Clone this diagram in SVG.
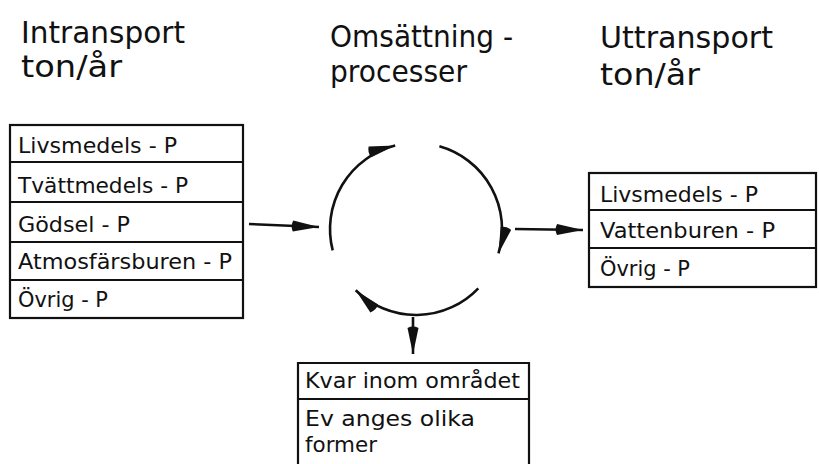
<svg xmlns="http://www.w3.org/2000/svg" width="819" height="464" viewBox="0 0 819 464">
  <style>
    text { font-family: "DejaVu Sans", "Liberation Sans", sans-serif; fill: #111; }
    .head { font-size: 31px; }
    .cell { font-size: 21px; }
    .box { fill: none; stroke: #111; stroke-width: 2.2; }
    .sep { stroke: #111; stroke-width: 2; }
    .flow { fill: none; stroke: #111; stroke-width: 2.6; marker-end: url(#spike); }
  </style>
  <defs>
    <!-- long narrow arrowhead, tip at the path end -->
    <marker id="spike" markerUnits="userSpaceOnUse" viewBox="0 0 28 12" markerWidth="28" markerHeight="12" refX="28" refY="6" orient="auto">
      <path d="M2,0.5 L28,6 L2,11.5 Q-0.8,6 2,0.5 z" fill="#111"/>
    </marker>
  </defs>
  <rect width="819" height="464" fill="#fff"/>

  <!-- column headings -->
  <g id="heading-in">
    <text class="head" x="21" y="43" textLength="164" lengthAdjust="spacingAndGlyphs">Intransport</text>
    <text class="head" x="21" y="77" textLength="101" lengthAdjust="spacingAndGlyphs">ton/år</text>
  </g>
  <g id="heading-process">
    <text class="head" x="330" y="47" textLength="183" lengthAdjust="spacingAndGlyphs">Omsättning -</text>
    <text class="head" x="330" y="82" textLength="137" lengthAdjust="spacingAndGlyphs">processer</text>
  </g>
  <g id="heading-out">
    <text class="head" x="600" y="48" textLength="173" lengthAdjust="spacingAndGlyphs">Uttransport</text>
    <text class="head" x="600" y="85" textLength="100" lengthAdjust="spacingAndGlyphs">ton/år</text>
  </g>

  <!-- inflow table -->
  <g id="inflow">
    <rect class="box" x="10" y="125" width="233" height="193"/>
    <line class="sep" x1="10" y1="162" x2="243" y2="162"/>
    <line class="sep" x1="10" y1="202" x2="243" y2="202"/>
    <line class="sep" x1="10" y1="242" x2="243" y2="242"/>
    <line class="sep" x1="10" y1="280" x2="243" y2="280"/>
    <text class="cell" x="18" y="153" textLength="159" lengthAdjust="spacingAndGlyphs">Livsmedels - P</text>
    <text class="cell" x="18" y="193" textLength="170" lengthAdjust="spacingAndGlyphs">Tvättmedels - P</text>
    <text class="cell" x="18" y="232" textLength="112" lengthAdjust="spacingAndGlyphs">Gödsel - P</text>
    <text class="cell" x="18" y="269" textLength="214" lengthAdjust="spacingAndGlyphs">Atmosfärsburen - P</text>
    <text class="cell" x="18" y="307" textLength="90" lengthAdjust="spacingAndGlyphs">Övrig - P</text>
  </g>

  <!-- outflow table -->
  <g id="outflow">
    <rect class="box" x="589" y="173" width="227" height="114"/>
    <line class="sep" x1="589" y1="210" x2="816" y2="210"/>
    <line class="sep" x1="589" y1="248" x2="816" y2="248"/>
    <text class="cell" x="600" y="202" textLength="158" lengthAdjust="spacingAndGlyphs">Livsmedels - P</text>
    <text class="cell" x="600" y="238" textLength="175" lengthAdjust="spacingAndGlyphs">Vattenburen - P</text>
    <text class="cell" x="600" y="276" textLength="90" lengthAdjust="spacingAndGlyphs">Övrig - P</text>
  </g>

  <!-- retained table (runs past the lower edge) -->
  <g id="retained">
    <path class="box" d="M298,470 V363 H529 V470"/>
    <line class="sep" x1="298" y1="399" x2="529" y2="399"/>
    <text class="cell" x="305" y="388" textLength="215" lengthAdjust="spacingAndGlyphs">Kvar inom området</text>
    <text class="cell" x="305" y="426" textLength="170" lengthAdjust="spacingAndGlyphs">Ev anges olika</text>
    <text class="cell" x="305" y="452" textLength="72" lengthAdjust="spacingAndGlyphs">former</text>
  </g>

  <!-- connectors: inflow, outflow, retained, and the process cycle -->
  <g id="connectors">
    <path class="flow" d="M249,224 L319,227"/>
    <path class="flow" d="M515,229 L583,230"/>
    <path class="flow" d="M413,317 L413,354"/>
    <path class="flow" d="M332.7,250.4 A86,86 0 0 1 395.2,145.6"/>
    <path class="flow" d="M439.4,146.3 A86,86 0 0 1 498.5,253.4"/>
    <path class="flow" d="M478.3,288.3 A86,86 0 0 1 355.7,290.3"/>
  </g>
</svg>
